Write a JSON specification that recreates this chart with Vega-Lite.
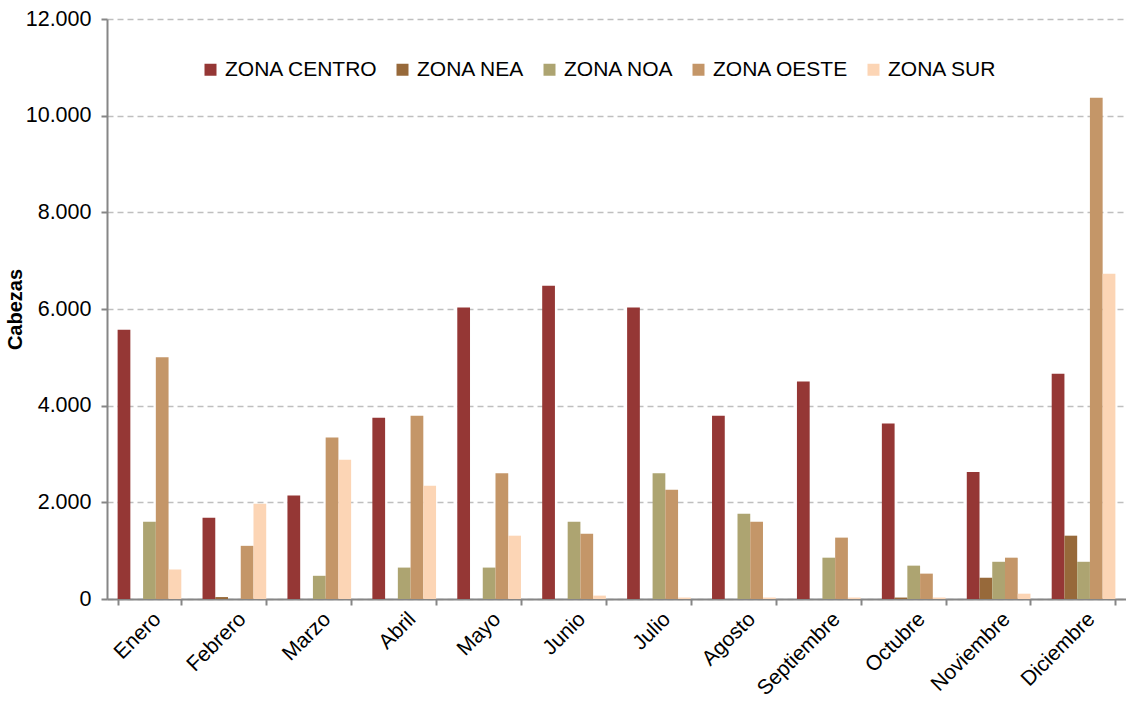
{
  "$schema": "https://vega.github.io/schema/vega-lite/v6.json",
  "width": 1019,
  "height": 580,
  "autosize": {"type": "none"},
  "padding": {"left": 107, "top": 19, "right": 0, "bottom": 105},
  "background": "white",
  "data": {
    "values": [
      {"mes": "Enero", "zona": "ZONA CENTRO", "cabezas": 5570},
      {"mes": "Enero", "zona": "ZONA NEA", "cabezas": 0},
      {"mes": "Enero", "zona": "ZONA NOA", "cabezas": 1600},
      {"mes": "Enero", "zona": "ZONA OESTE", "cabezas": 5000},
      {"mes": "Enero", "zona": "ZONA SUR", "cabezas": 610},
      {"mes": "Febrero", "zona": "ZONA CENTRO", "cabezas": 1680},
      {"mes": "Febrero", "zona": "ZONA NEA", "cabezas": 40},
      {"mes": "Febrero", "zona": "ZONA NOA", "cabezas": 0},
      {"mes": "Febrero", "zona": "ZONA OESTE", "cabezas": 1100},
      {"mes": "Febrero", "zona": "ZONA SUR", "cabezas": 1970},
      {"mes": "Marzo", "zona": "ZONA CENTRO", "cabezas": 2140},
      {"mes": "Marzo", "zona": "ZONA NEA", "cabezas": 0},
      {"mes": "Marzo", "zona": "ZONA NOA", "cabezas": 480},
      {"mes": "Marzo", "zona": "ZONA OESTE", "cabezas": 3340},
      {"mes": "Marzo", "zona": "ZONA SUR", "cabezas": 2880},
      {"mes": "Abril", "zona": "ZONA CENTRO", "cabezas": 3750},
      {"mes": "Abril", "zona": "ZONA NEA", "cabezas": 0},
      {"mes": "Abril", "zona": "ZONA NOA", "cabezas": 650},
      {"mes": "Abril", "zona": "ZONA OESTE", "cabezas": 3790},
      {"mes": "Abril", "zona": "ZONA SUR", "cabezas": 2345},
      {"mes": "Mayo", "zona": "ZONA CENTRO", "cabezas": 6030},
      {"mes": "Mayo", "zona": "ZONA NEA", "cabezas": 0},
      {"mes": "Mayo", "zona": "ZONA NOA", "cabezas": 650},
      {"mes": "Mayo", "zona": "ZONA OESTE", "cabezas": 2600},
      {"mes": "Mayo", "zona": "ZONA SUR", "cabezas": 1310},
      {"mes": "Junio", "zona": "ZONA CENTRO", "cabezas": 6480},
      {"mes": "Junio", "zona": "ZONA NEA", "cabezas": 0},
      {"mes": "Junio", "zona": "ZONA NOA", "cabezas": 1600},
      {"mes": "Junio", "zona": "ZONA OESTE", "cabezas": 1350},
      {"mes": "Junio", "zona": "ZONA SUR", "cabezas": 70},
      {"mes": "Julio", "zona": "ZONA CENTRO", "cabezas": 6030},
      {"mes": "Julio", "zona": "ZONA NEA", "cabezas": 0},
      {"mes": "Julio", "zona": "ZONA NOA", "cabezas": 2600},
      {"mes": "Julio", "zona": "ZONA OESTE", "cabezas": 2260},
      {"mes": "Julio", "zona": "ZONA SUR", "cabezas": 30},
      {"mes": "Agosto", "zona": "ZONA CENTRO", "cabezas": 3790},
      {"mes": "Agosto", "zona": "ZONA NEA", "cabezas": 0},
      {"mes": "Agosto", "zona": "ZONA NOA", "cabezas": 1765},
      {"mes": "Agosto", "zona": "ZONA OESTE", "cabezas": 1600},
      {"mes": "Agosto", "zona": "ZONA SUR", "cabezas": 30},
      {"mes": "Septiembre", "zona": "ZONA CENTRO", "cabezas": 4500},
      {"mes": "Septiembre", "zona": "ZONA NEA", "cabezas": 0},
      {"mes": "Septiembre", "zona": "ZONA NOA", "cabezas": 855},
      {"mes": "Septiembre", "zona": "ZONA OESTE", "cabezas": 1270},
      {"mes": "Septiembre", "zona": "ZONA SUR", "cabezas": 30},
      {"mes": "Octubre", "zona": "ZONA CENTRO", "cabezas": 3630},
      {"mes": "Octubre", "zona": "ZONA NEA", "cabezas": 30},
      {"mes": "Octubre", "zona": "ZONA NOA", "cabezas": 690},
      {"mes": "Octubre", "zona": "ZONA OESTE", "cabezas": 525},
      {"mes": "Octubre", "zona": "ZONA SUR", "cabezas": 30},
      {"mes": "Noviembre", "zona": "ZONA CENTRO", "cabezas": 2630},
      {"mes": "Noviembre", "zona": "ZONA NEA", "cabezas": 440},
      {"mes": "Noviembre", "zona": "ZONA NOA", "cabezas": 770},
      {"mes": "Noviembre", "zona": "ZONA OESTE", "cabezas": 855},
      {"mes": "Noviembre", "zona": "ZONA SUR", "cabezas": 110},
      {"mes": "Diciembre", "zona": "ZONA CENTRO", "cabezas": 4660},
      {"mes": "Diciembre", "zona": "ZONA NEA", "cabezas": 1310},
      {"mes": "Diciembre", "zona": "ZONA NOA", "cabezas": 770},
      {"mes": "Diciembre", "zona": "ZONA OESTE", "cabezas": 10370},
      {"mes": "Diciembre", "zona": "ZONA SUR", "cabezas": 6730}
    ]
  },
  "mark": {"type": "bar"},
  "encoding": {
    "x": {
      "field": "mes",
      "type": "nominal",
      "sort": ["Enero","Febrero","Marzo","Abril","Mayo","Junio","Julio","Agosto","Septiembre","Octubre","Noviembre","Diciembre"],
      "scale": {"paddingInner": 0.25, "paddingOuter": 0.125},
      "axis": {
        "title": null,
        "labelAngle": -45,
        "labelFontSize": 21,
        "labelFont": "Liberation Sans",
        "labelColor": "#000000",
        "labelPadding": 3,
        "labelLimit": 300,
        "tickBand": "extent",
        "tickSize": 6,
        "tickWidth": 2,
        "tickColor": "#868686",
        "domainColor": "#868686",
        "domainWidth": 2,
        "grid": false
      }
    },
    "xOffset": {
      "field": "zona",
      "type": "nominal",
      "sort": ["ZONA CENTRO","ZONA NEA","ZONA NOA","ZONA OESTE","ZONA SUR"],
      "scale": {"paddingInner": 0, "paddingOuter": 0}
    },
    "y": {
      "field": "cabezas",
      "type": "quantitative",
      "scale": {"domain": [0, 12000], "nice": false},
      "axis": {
        "title": "Cabezas",
        "titleFont": "Liberation Sans",
        "titleFontSize": 20,
        "titleFontWeight": "bold",
        "titleColor": "#000000",
        "titlePadding": 0,
        "values": [0, 2000, 4000, 6000, 8000, 10000, 12000],
        "labelExpr": "replace(format(datum.value, ','), ',', '.')",
        "labelFont": "Liberation Sans",
        "labelFontSize": 21.5,
        "labelColor": "#000000",
        "labelPadding": 10,
        "tickSize": 6,
        "tickWidth": 2,
        "tickColor": "#868686",
        "domainColor": "#868686",
        "domainWidth": 2,
        "grid": true,
        "gridColor": "#bfbfbf",
        "gridWidth": 1.5,
        "gridDash": [6, 4]
      }
    },
    "color": {
      "field": "zona",
      "type": "nominal",
      "scale": {
        "domain": ["ZONA CENTRO","ZONA NEA","ZONA NOA","ZONA OESTE","ZONA SUR"],
        "range": ["#953735","#97693a","#ada471","#c49668","#fcd5b5"]
      },
      "legend": {
        "title": null,
        "orient": "none",
        "direction": "horizontal",
        "legendX": 93,
        "legendY": 40,
        "symbolType": "square",
        "symbolSize": 144,
        "symbolStrokeWidth": 0,
        "labelFont": "Liberation Sans",
        "labelFontSize": 21,
        "labelColor": "#000000",
        "labelOffset": 4,
        "columnPadding": 14,
        "labelLimit": 300
      }
    }
  },
  "config": {"view": {"stroke": null}}
}
